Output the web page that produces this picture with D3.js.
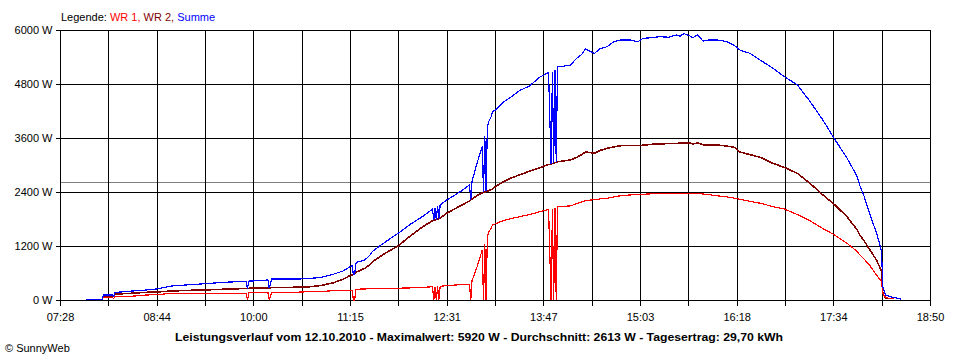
<!DOCTYPE html>
<html>
<head>
<meta charset="utf-8">
<script src="https://cdn.jsdelivr.net/npm/d3@7"></script>
<style>
  html, body { margin: 0; padding: 0; background: #fff; }
  svg { display: block; font-family: "Liberation Sans", Arial, sans-serif; }
</style>
</head>
<body>
<svg id="chart" width="960" height="360"></svg>
<script>
// ---- data ----
const times = [
  "07:48","08:01","08:02","08:09","08:10","08:11","08:18","08:25","08:35","08:45",
  "08:55","09:05","09:15","09:28","09:41","09:54","09:55","09:56","10:05","10:11",
  "10:12","10:14","10:25","10:35","10:44","10:52","11:02","11:10","11:15","11:17",
  "11:18","11:19","11:20","11:21","11:27","11:31","11:33","11:43","11:53","12:02",
  "12:13","12:20","12:21","12:22","12:23","12:24","12:25","12:26","12:31","12:42",
  "12:49","12:50","12:51","12:55","12:59","13:00","13:01","13:02","13:03","13:04",
  "13:06","13:07","13:10","13:15","13:20","13:28","13:36","13:44","13:51","13:53",
  "13:54","13:55","13:56","13:57","13:58","14:00","14:08","14:13","14:17","14:20",
  "14:25","14:27","14:31","14:37","14:42","14:48","14:55","15:01","15:05","15:12",
  "15:18","15:25","15:31","15:34","15:37","15:41","15:44","15:48","15:52","15:57",
  "16:03","16:11","16:17","16:21","16:29","16:37","16:47","16:56","17:06","17:16",
  "17:26","17:34","17:45","17:53","17:55","17:58","18:03","18:08","18:11","18:12",
  "18:13","18:15","18:19","18:22","18:23","18:27"];

const wr1 = [
  null,null,60,60,30,75,75,85,110,120,
  150,150,150,150,150,150,0,165,165,165,
  0,170,170,175,185,190,205,215,220,220,
  0,0,235,240,245,250,255,258,262,268,
  280,295,0,295,0,300,0,305,320,340,
  350,0,430,740,1110,0,1250,0,1400,1500,
  1600,1665,1700,1760,1800,1850,1900,1960,2010,0,
  2030,0,2050,0,2075,2080,2090,2140,2180,2210,
  2225,2230,2245,2260,2290,2320,2335,2345,2350,2360,
  2370,2370,2370,2370,2370,2370,2368,2365,2355,2340,
  2315,2290,2260,2240,2190,2150,2075,2020,1900,1760,
  1590,1465,1260,1075,1000,920,760,555,450,400,
  150,60,30,30,null,null];

const wr2 = [
  null,null,90,90,90,135,140,150,170,180,
  200,210,220,230,245,255,255,260,265,270,
  270,275,278,285,295,320,380,460,540,560,
  570,590,610,630,705,790,850,1040,1200,1410,
  1640,1760,1770,1780,1790,1800,1810,1820,1925,2095,
  2200,2220,2245,2320,2380,2390,2400,2410,2420,2430,
  2450,2470,2530,2620,2690,2780,2860,2940,3010,3020,
  3030,3040,3050,3060,3075,3080,3110,3170,3230,3290,
  3270,3260,3320,3370,3400,3430,3430,3430,3440,3460,
  3470,3475,3480,3485,3495,3490,3470,3490,3450,3445,
  3445,3420,3390,3290,3230,3170,3035,2945,2815,2590,
  2335,2150,1850,1555,1445,1330,1110,890,705,640,
  150,40,35,35,null,null];

const summe = [
  15,15,110,110,75,165,185,200,220,250,
  310,330,350,375,400,410,250,420,430,445,
  260,465,465,465,480,500,570,645,730,760,
  570,580,820,840,890,1000,1080,1290,1480,1670,
  1870,2020,1780,2050,1790,2080,1800,2110,2220,2410,
  2555,2220,2640,3050,3410,2400,3650,2420,3830,3960,
  4075,4185,4235,4385,4480,4650,4755,4950,5055,3020,
  5060,3040,5100,3060,5185,5185,5220,5370,5460,5580,
  5505,5480,5580,5630,5740,5780,5780,5740,5815,5830,
  5850,5840,5890,5860,5920,5880,5830,5890,5755,5780,
  5780,5740,5650,5555,5480,5330,5150,4960,4780,4410,
  4000,3630,3150,2740,2540,2335,1890,1500,1200,1080,
  300,110,75,50,50,20];

const average = 2613;
const yTicks = [0, 1200, 2400, 3600, 4800, 6000];
const xTickLabels = ["07:28","08:44","10:00","11:15","12:31","13:47","15:03","16:18","17:34","18:50"];
const xStart = "07:28", xEnd = "18:50";
const legendItems = [
  {name: "WR 1", color: "#ff0000"},
  {name: "WR 2", color: "#800000"},
  {name: "Summe", color: "#0000ff"}
];
const caption = "Leistungsverlauf vom 12.10.2010 - Maximalwert: 5920 W - Durchschnitt: 2613 W - Tagesertrag: 29,70 kWh";

// ---- drawing ----
const toMin = s => { const [h, m] = s.split(":").map(Number); return h * 60 + m; };
const plotLeft = 60, plotRight = 930, plotTop = 30, plotBottom = 300;
const x = d3.scaleLinear().domain([toMin(xStart), toMin(xEnd)]).range([plotLeft, plotRight]);
const y = d3.scaleLinear().domain([0, 6000]).range([plotBottom, plotTop]);

const svg = d3.select("#chart");
svg.append("rect").attr("width", 960).attr("height", 360).attr("fill", "#fff");

const nGrid = 18;
const gridTimes = d3.range(nGrid + 1).map(k => toMin(xStart) + k * (toMin(xEnd) - toMin(xStart)) / nGrid);
const px = v => Math.round(v) + 0.5;

// average line
svg.append("line")
  .attr("x1", plotLeft).attr("x2", plotRight + 0.5)
  .attr("y1", px(y(average))).attr("y2", px(y(average)))
  .attr("stroke", "#808080").attr("stroke-width", 1).attr("shape-rendering", "crispEdges");

// grid
const grid = svg.append("g").attr("stroke", "#000").attr("stroke-width", 1).attr("shape-rendering", "crispEdges");
gridTimes.forEach(t => {
  grid.append("line").attr("x1", px(x(t))).attr("x2", px(x(t))).attr("y1", px(plotTop)).attr("y2", px(plotBottom) + 5);
});
yTicks.forEach(v => {
  grid.append("line").attr("x1", px(plotLeft) - 5).attr("x2", px(plotRight)).attr("y1", px(y(v))).attr("y2", px(y(v)));
});

// axis labels
svg.append("g").selectAll("text").data(yTicks).join("text")
  .attr("x", 52.5).attr("y", v => y(v) + 4)
  .attr("text-anchor", "end").attr("font-size", 11).attr("fill", "#000")
  .text(v => v + " W");

svg.append("g").selectAll("text").data(xTickLabels).join("text")
  .attr("x", (d, i) => x(gridTimes[i * 2]) + 0.5).attr("y", 321)
  .attr("text-anchor", "middle").attr("font-size", 11).attr("fill", "#000")
  .text(d => d);

// series
const rows = times.map((t, i) => ({t: toMin(t), wr1: wr1[i], wr2: wr2[i], summe: summe[i]}));
const series = [
  {key: "wr2", color: "#800000", width: 1.6},
  {key: "wr1", color: "#ff0000", width: 1.2},
  {key: "summe", color: "#0000ff", width: 1.2}
];
series.forEach(s => {
  const line = d3.line()
    .defined(d => d[s.key] !== null)
    .x(d => x(d.t))
    .y(d => y(d[s.key]));
  svg.append("path").datum(rows)
    .attr("d", line)
    .attr("fill", "none")
    .attr("stroke", s.color)
    .attr("stroke-width", s.width)
    .attr("stroke-linejoin", "miter")
    .attr("shape-rendering", "crispEdges");
});

// legend
const legend = svg.append("text").attr("x", 61).attr("y", 21).attr("font-size", 11);
legend.append("tspan").attr("fill", "#000").text("Legende: ");
legendItems.forEach((it, i) => {
  legend.append("tspan").attr("fill", it.color).text(it.name + (i < legendItems.length - 1 ? ", " : ""));
});

// caption
svg.append("text").attr("x", 479).attr("y", 341)
  .attr("text-anchor", "middle").attr("font-size", 11).attr("font-weight", "bold")
  .attr("textLength", 608).attr("lengthAdjust", "spacingAndGlyphs")
  .text(caption);

svg.append("text").attr("x", 5).attr("y", 352).attr("font-size", 11).attr("fill", "#000")
  .text("\u00A9 SunnyWeb");
</script>
</body>
</html>
